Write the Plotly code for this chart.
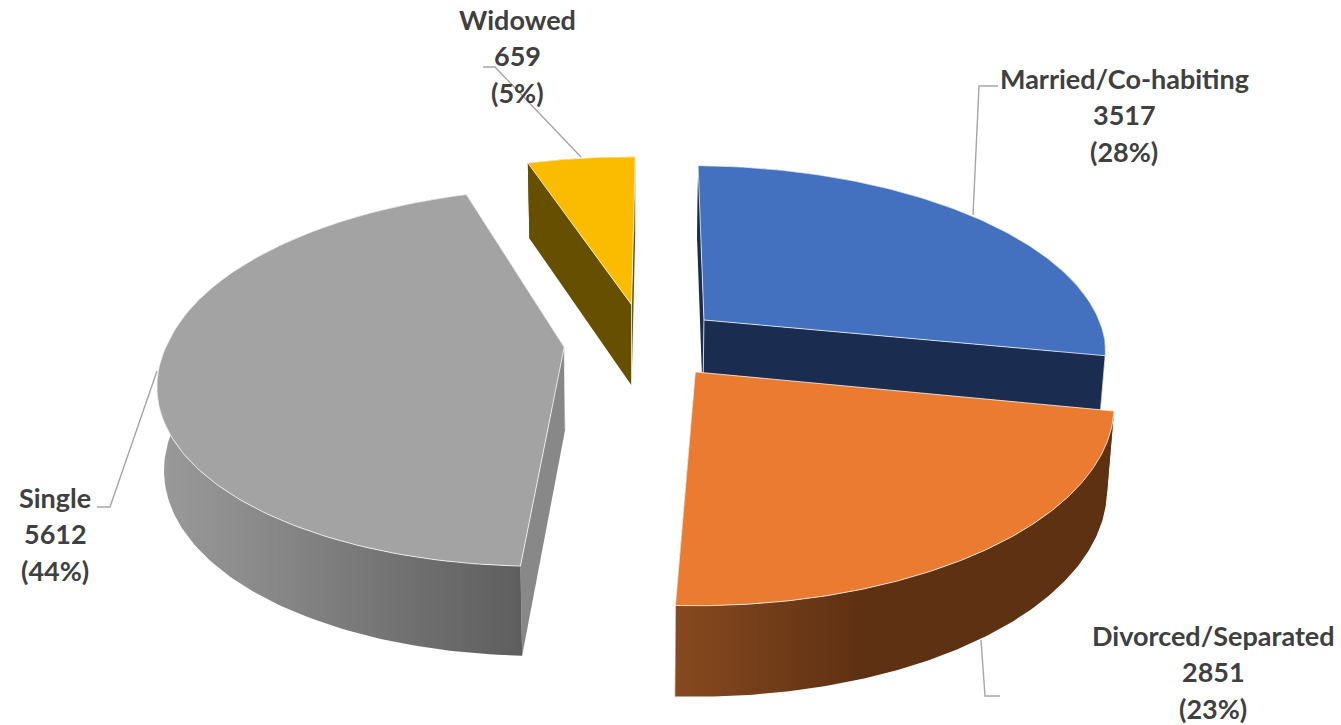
import numpy as np
import plotly.graph_objects as go

categories = ["Married/Co-habiting", "Divorced/Separated", "Single", "Widowed"]
counts = [3517, 2851, 5612, 659]

# Styling and projection constants (not data): per-slice explosion in disc units
explode_x = [0.033, 0.008, -0.316, -0.150]
explode_y = [0.110, -0.168, -0.038, 0.197]
radius_scale = [1.0, 1.0, 0.985, 0.98]
top_colors = ["#4371c0", "#ea7b30", "#a3a3a3", "#fbbc00"]
side_colors = ["#1a2c50", "#7f4219", "#888888", "#665000"]
R, A, P, VX, VY, BACK_SKEW = 402.0, 185.0, 0.16, 692.0, 340.0, 10.0
START_DEG = 1.0
DEPTH = 82.0
W, H = 1341, 725
EDGE = "rgba(255,255,255,0.75)"


def project(X, Y):
    s = 1.0 / (1.0 + P * Y)
    return VX + R * X * s - BACK_SKEW * np.maximum(Y, 0), VY - A * Y * s, s


def top_xy(X, Y):
    x, y, _ = project(np.asarray(X, float), np.asarray(Y, float))
    return x, y


def bottom_xy(X, Y):
    x, y, s = project(np.asarray(X, float), np.asarray(Y, float))
    return 633 + (x - 633) * 0.985, y + DEPTH * np.sqrt(s)


total = sum(counts)
fractions = [c / total for c in counts]
edges = np.concatenate([[0], np.cumsum(fractions)]) * 360 + START_DEG

slices = []
for i in range(len(counts)):
    a0, a1 = np.radians(edges[i]), np.radians(edges[i + 1])
    ox, oy = explode_x[i], explode_y[i]
    t = np.linspace(a0, a1, 160)
    r = radius_scale[i]
    slices.append(dict(ox=ox, oy=oy, ax=ox + r * np.sin(t), ay=oy + r * np.cos(t)))

fig = go.Figure()


def poly(x, y, color=None, gradient=None, line=None, width=1):
    kw = dict(
        x=list(x) + [x[0]], y=list(y) + [y[0]], mode="lines", fill="toself",
        hoverinfo="skip", showlegend=False,
        line=dict(color=line or "rgba(0,0,0,0)", width=width if line else 0),
    )
    if gradient:
        kw["fillgradient"] = gradient
    else:
        kw["fillcolor"] = color
    fig.add_trace(go.Scatter(**kw))


def grad(x0, x1, stops):
    return dict(type="horizontal", start=x0, stop=x1,
                colorscale=[[p, c] for p, c in stops])


wall_gradients = {
    1: grad(675, 1112, [(0, "#87491f"), (0.42, "#5f3113"), (1, "#5f3113")]),
    2: grad(160, 522, [(0, "#9a9a9a"), (0.35, "#858585"), (1, "#5e5e5e")]),
}

for i in [3, 0, 2, 1]:
    s = slices[i]
    # radial walls
    for ex, ey in ((s["ax"][0], s["ay"][0]), (s["ax"][-1], s["ay"][-1])):
        rx = np.linspace(s["ox"], ex, 2)
        ry = np.linspace(s["oy"], ey, 2)
        tx, ty = top_xy(rx, ry)
        bx, by = bottom_xy(rx, ry)
        poly(np.r_[tx, bx[::-1]], np.r_[ty, by[::-1]], color=side_colors[i])
    # outer curved wall
    tx, ty = top_xy(s["ax"], s["ay"])
    bx, by = bottom_xy(s["ax"], s["ay"])
    poly(np.r_[tx, bx[::-1]], np.r_[ty, by[::-1]], color=side_colors[i], gradient=wall_gradients.get(i))
    # corner edges
    for cx, cy in ((s["ox"], s["oy"]), (s["ax"][-1], s["ay"][-1])):
        tx, ty = top_xy(cx, cy)
        bx, by = bottom_xy(cx, cy)
        fig.add_trace(go.Scatter(x=[float(tx), float(bx)], y=[float(ty), float(by)], mode="lines",
                                 hoverinfo="skip", showlegend=False, line=dict(color=EDGE, width=1)))
    # top face
    fx, fy = top_xy(np.r_[s["ox"], s["ax"]], np.r_[s["oy"], s["ay"]])
    poly(fx, fy, color=top_colors[i], line=EDGE, width=1)

# Leader lines
leaders = [
    ([998, 979, 973], [86, 86, 215]),
    ([1000, 985, 981], [696, 696, 640]),
    ([97, 110, 157], [507, 507, 371]),
    ([483, 495, 581], [67, 67, 157]),
]
for lx, ly in leaders:
    fig.add_trace(go.Scatter(x=lx, y=ly, mode="lines", hoverinfo="skip", showlegend=False,
                             line=dict(color="#a6a6a6", width=1.4)))

# Data labels, one annotation per text line
label_anchor = [(1124, 78), (1213, 635), (55, 497), (517, 19)]
LINE_GAP = 36.5
for i, (cx, cy) in enumerate(label_anchor):
    lines = [categories[i], str(counts[i]), f"({round(fractions[i] * 100)}%)"]
    for j, txt in enumerate(lines):
        fig.add_annotation(x=cx, y=cy + j * LINE_GAP, text=txt, showarrow=False,
                           xanchor="center", yanchor="middle",
                           font=dict(family="Lato", size=27, color="#404040", weight=700))

fig.update_layout(
    width=W, height=H, margin=dict(l=0, r=0, t=0, b=0),
    paper_bgcolor="white", plot_bgcolor="white", showlegend=False,
    xaxis=dict(range=[0, W], visible=False, fixedrange=True),
    yaxis=dict(range=[H, 0], visible=False, fixedrange=True),
)
fig.write_html("out.html", config={"displayModeBar": False},
               post_script="document.body.style.margin='0';")
